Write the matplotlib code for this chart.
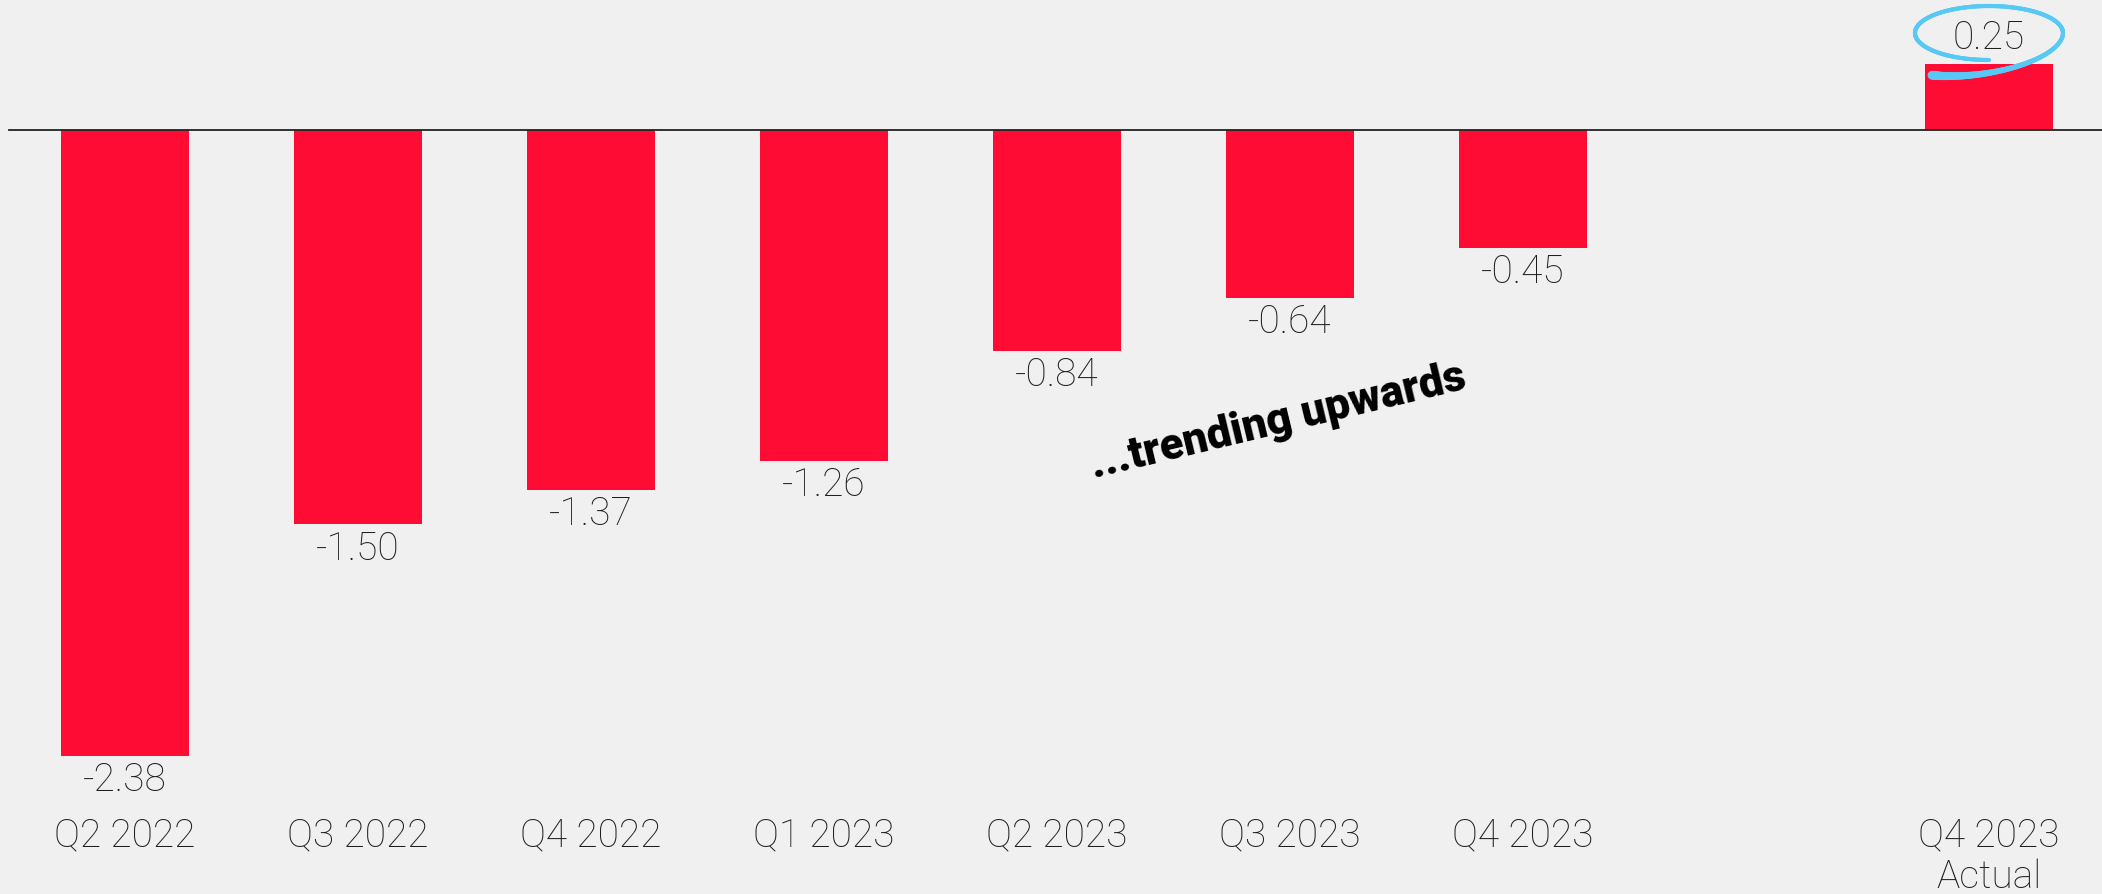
import numpy as np
import matplotlib.pyplot as plt
from matplotlib.collections import LineCollection

plt.rcParams['font.family'] = ['Roboto', 'DejaVu Sans']

# quarterly values, plus the actual result shown apart on the right
quarters = ["Q2 2022", "Q3 2022", "Q4 2022", "Q1 2023", "Q2 2023", "Q3 2023", "Q4 2023"]
values = [-2.38, -1.50, -1.37, -1.26, -0.84, -0.64, -0.45]
actual_label = "Q4 2023\nActual"
actual_value = 0.25

labels = quarters + [actual_label]
vals = values + [actual_value]
xpos = np.r_[np.arange(len(quarters)), len(quarters) + 1]

BG = "#f0f0f0"
RED = "#ff0c35"
INK = "#1f1f1f"
BLUE = "#58c9f5"

fig = plt.figure(figsize=(21.02, 8.94), dpi=100, facecolor=BG)
ax = fig.add_axes([0, 0, 1, 1], facecolor=BG)
ax.set_xlim(-0.5365, 8.485)
ax.set_ylim(-2.905, 0.494)
ax.axis("off")

ax.bar(xpos, vals, width=0.55, color=RED, zorder=2)
ax.plot([-0.5, 8.6], [0, 0], color="#222222", lw=1.3, zorder=3)

for x, v in zip(xpos, vals):
    if v < 0:
        ax.annotate(f"{v:.2f}", (x, v), xytext=(0, -4), textcoords="offset points",
                    ha="center", va="top", fontsize=28, fontweight="light", color=INK)
    else:
        ax.annotate(f"{v:.2f}", (x, v), xytext=(0, 11), textcoords="offset points",
                    ha="center", va="baseline", fontsize=28, fontweight="light", color=INK)

# category labels under the chart
for x, lab in zip(xpos, labels):
    for j, line in enumerate(lab.split("\n")):
        ax.annotate(line, (x, -2.722), xytext=(0, -j * 30), textcoords="offset points",
                    ha="center", va="baseline", fontsize=28, fontweight="light", color=INK)

ax.text(4.95, -1.11, "...trending upwards", rotation=13.5, rotation_mode="anchor",
        ha="center", va="center", fontsize=31.5, fontweight="black", color="black")

# hand-drawn loop around the actual value
px = 1 / 233.0
py = 1 / 263.0
cx = xpos[-1]
cy = 0.494 - 33 * py
a, b = 74 * px, 27 * py
phi = np.linspace(-np.pi / 2, -5 * np.pi / 2 - 0.88, 400)
t = np.clip((-2 * np.pi - phi) / (np.pi / 2 + 0.88), 0, 1)
drop = 25 * py * t ** 1.5
lx = cx + a * np.cos(phi)
ly = cy + b * np.sin(phi) - drop
pts = np.column_stack([lx, ly]).reshape(-1, 1, 2)
segs = np.concatenate([pts[:-1], pts[1:]], axis=1)
widths = 3.0 + 3.4 * t[:-1] ** 2
ax.add_collection(LineCollection(segs, linewidths=widths, colors=BLUE,
                                 capstyle="round", zorder=4))

fig.savefig("out.png", dpi=100, facecolor=BG)
